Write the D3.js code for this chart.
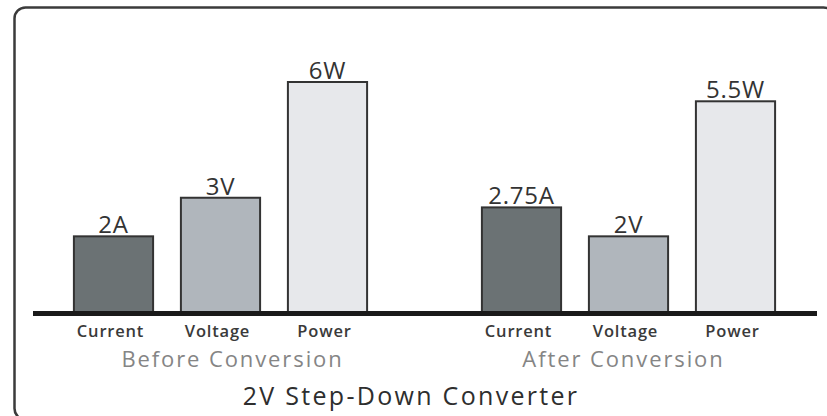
<!DOCTYPE html>
<html>
<head>
<meta charset="utf-8">
<script src="https://cdn.jsdelivr.net/npm/d3@7"></script>
<style>
  html, body { margin: 0; padding: 0; background: #fff; }
  svg { display: block; }
  text { font-family: "Open Sans", "Noto Sans", sans-serif; }
</style>
</head>
<body>
<svg id="chart" width="827" height="416"></svg>
<script>
const groups = ["Before Conversion", "After Conversion"];
const categories = ["Current", "Voltage", "Power"];
const beforeValues = [2, 3, 6];
const afterValues = [2.75, 2, 5.5];
const beforeLabels = ["2A", "3V", "6W"];
const afterLabels = ["2.75A", "2V", "5.5W"];
const title = "2V Step-Down Converter";

const colors = { Current: "#6b7274", Voltage: "#b0b6bc", Power: "#e7e8eb" };

const rows = [];
groups.forEach((g, gi) => {
  const vals = gi === 0 ? beforeValues : afterValues;
  const labs = gi === 0 ? beforeLabels : afterLabels;
  categories.forEach((c, ci) => rows.push({ group: g, cat: c, value: vals[ci], label: labs[ci] }));
});

const svg = d3.select("#chart");
const baseY = 313.5;

const x0 = d3.scaleBand().domain(groups).range([60, 789]).paddingInner(87 / 408);
const x1 = d3.scaleBand().domain(categories).range([0, x0.bandwidth()]).paddingInner(0.26).paddingOuter(0.13);
const y = d3.scaleLinear().domain([0, 6]).range([baseY, 82]);

// frame (right and bottom edges run off the picture)
svg.append("rect")
  .attr("x", 14.5).attr("y", 7.5)
  .attr("width", 820).attr("height", 412)
  .attr("rx", 11).attr("ry", 11)
  .attr("fill", "none").attr("stroke", "#3b3b3b").attr("stroke-width", 2.5);

// bars
const bars = svg.append("g");
bars.selectAll("rect").data(rows).join("rect")
  .attr("x", d => x0(d.group) + x1(d.cat))
  .attr("y", d => y(d.value))
  .attr("width", x1.bandwidth())
  .attr("height", d => y(0) - y(d.value))
  .attr("fill", d => colors[d.cat])
  .attr("stroke", "#333")
  .attr("stroke-width", 2);

// baseline
svg.append("line")
  .attr("x1", 33).attr("x2", 817)
  .attr("y1", baseY).attr("y2", baseY)
  .attr("stroke", "#1a1a1a").attr("stroke-width", 5);

// value labels
svg.append("g").selectAll("text").data(rows).join("text")
  .attr("x", d => x0(d.group) + x1(d.cat) + x1.bandwidth() / 2)
  .attr("y", d => y(d.value) - 3)
  .attr("text-anchor", "middle")
  .attr("font-size", 24)
  .attr("letter-spacing", 0.8)
  .attr("fill", "#333")
  .text(d => d.label);

// category labels
svg.append("g").selectAll("text").data(rows).join("text")
  .attr("x", d => x0(d.group) + x1(d.cat) + x1.bandwidth() / 2 - 3)
  .attr("y", 337)
  .attr("text-anchor", "middle")
  .attr("font-size", 16.5)
  .attr("font-weight", 600)
  .attr("letter-spacing", 0.8)
  .attr("fill", "#3a3a3a")
  .text(d => d.cat);

// group labels
svg.append("g").selectAll("text").data(groups).join("text")
  .attr("x", g => x0(g) + x0.bandwidth() / 2 + (g === groups[0] ? 12 : -5))
  .attr("y", 367)
  .attr("text-anchor", "middle")
  .attr("font-size", 22)
  .attr("letter-spacing", 1.9)
  .attr("fill", "#858585")
  .text(g => g);

// title
svg.append("text")
  .attr("x", 411).attr("y", 405)
  .attr("text-anchor", "middle")
  .attr("font-size", 25)
  .attr("letter-spacing", 2.3)
  .attr("fill", "#2e2e2e")
  .text(title);
</script>
</body>
</html>
